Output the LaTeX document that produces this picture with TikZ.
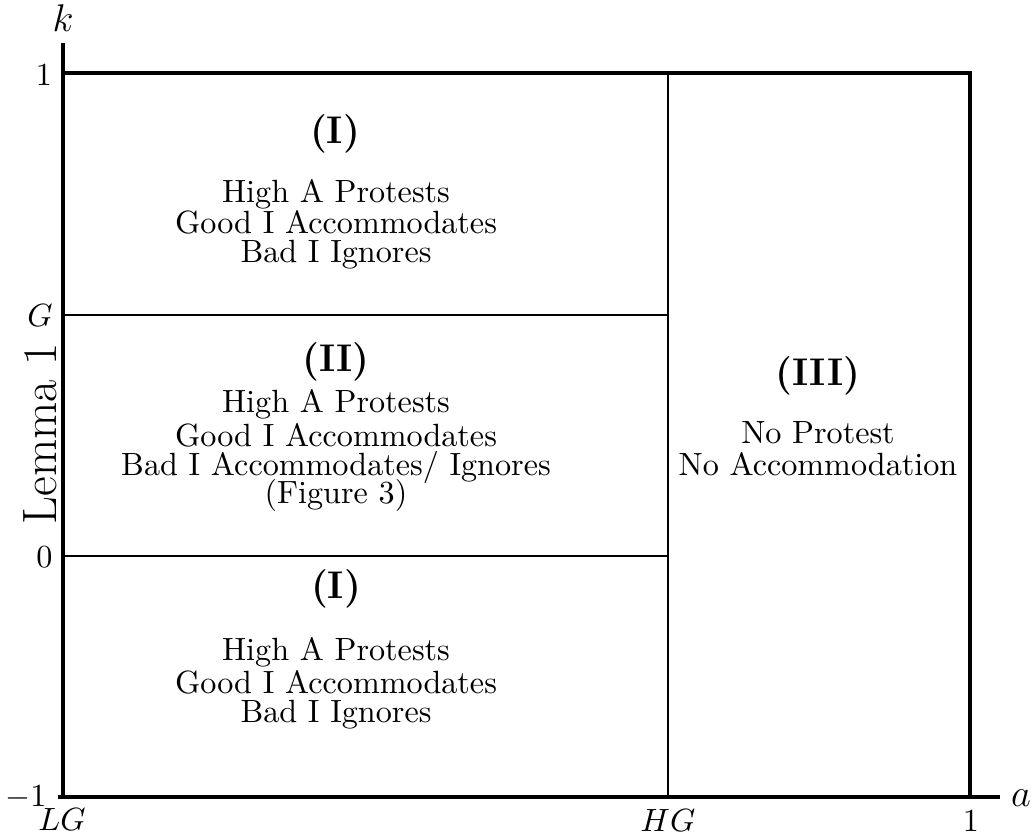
\documentclass[tikz,border=0pt]{standalone}
\begin{document}
\begin{tikzpicture}[x=0.311pt,y=-0.311pt,
  axisline/.style={line width=0.95pt},
  frameline/.style={line width=0.95pt},
  thinline/.style={line width=0.42pt},
  txt/.style={inner sep=0pt,anchor=base,font=\fontsize{10}{12}\selectfont},
  ttl/.style={inner sep=0pt,font=\fontsize{12}{14}\selectfont\bfseries},
  tick/.style={inner sep=0pt,font=\fontsize{10}{12}\selectfont},
  axlab/.style={inner sep=0pt,font=\fontsize{12}{14}\selectfont}]
\useasboundingbox (0,0) rectangle (1035,839);
% coordinates
\coordinate (O) at (63,797);
\coordinate (ytop) at (63,43);
\coordinate (xstart) at (58,797);
\coordinate (xend) at (1000,797);
\coordinate (TL) at (63,73);
\coordinate (TR) at (970,73);
\coordinate (BR) at (970,797);
\coordinate (HGt) at (668,73);
\coordinate (HGb) at (668,797);
\coordinate (Gl) at (63,315);
\coordinate (Gr) at (668,315);
\coordinate (Zl) at (63,556);
\coordinate (Zr) at (668,556);
% lines
\draw[thinline] (HGt) -- (HGb);
\draw[thinline] (Gl) -- (Gr);
\draw[thinline] (Zl) -- (Zr);
\draw[frameline] (TL) -- (TR) -- (BR);
\draw[axisline] (xstart) -- (xend);
\draw[axisline] (O) -- (ytop);
% axis labels
\node[axlab] (klab) at (63,18) {$k$};
\node[axlab] (alab) at (1021,798) {$a$};
\node[tick] (t1) at (44,75) {$1$};
\node[tick] (tG) at (40,316) {$G$};
\node[tick] (t0) at (44.5,557) {$0$};
\node[tick] (tm1) at (26,797) {$-1$};
\node[tick] (tLG) at (62,820) {$LG$};
\node[tick] (tHG) at (668,821) {$HG$};
\node[tick] (ta1) at (971,821) {$1$};
\node[inner sep=0pt,rotate=90,font=\fontsize{15}{18}\selectfont] (lemma) at (40,434) {Lemma 1};
% region I (top)
\node[ttl] (r1t) at (335,134) {(I)};
\node[txt] (r1a) at (336,202) {High A Protests};
\node[txt] (r1b) at (336,233) {Good I Accommodates};
\node[txt] (r1c) at (336,262) {Bad I Ignores};
% region II
\node[ttl] (r2t) at (336,362) {(II)};
\node[txt] (r2a) at (336,412) {High A Protests};
\node[txt] (r2b) at (336,446) {Good I Accommodates};
\node[txt] (r2c) at (336,475) {Bad I Accommodates/ Ignores};
\node[txt] (r2d) at (336,503) {(Figure 3)};
% region I (bottom)
\node[ttl] (r3t) at (336,589) {(I)};
\node[txt] (r3a) at (336,660) {High A Protests};
\node[txt] (r3b) at (336,693) {Good I Accommodates};
\node[txt] (r3c) at (336,722) {Bad I Ignores};
% region III
\node[ttl] (r4t) at (818,376) {(III)};
\node[txt] (r4a) at (818,443) {No Protest};
\node[txt] (r4b) at (818,475) {No Accommodation};
\end{tikzpicture}
\end{document}
